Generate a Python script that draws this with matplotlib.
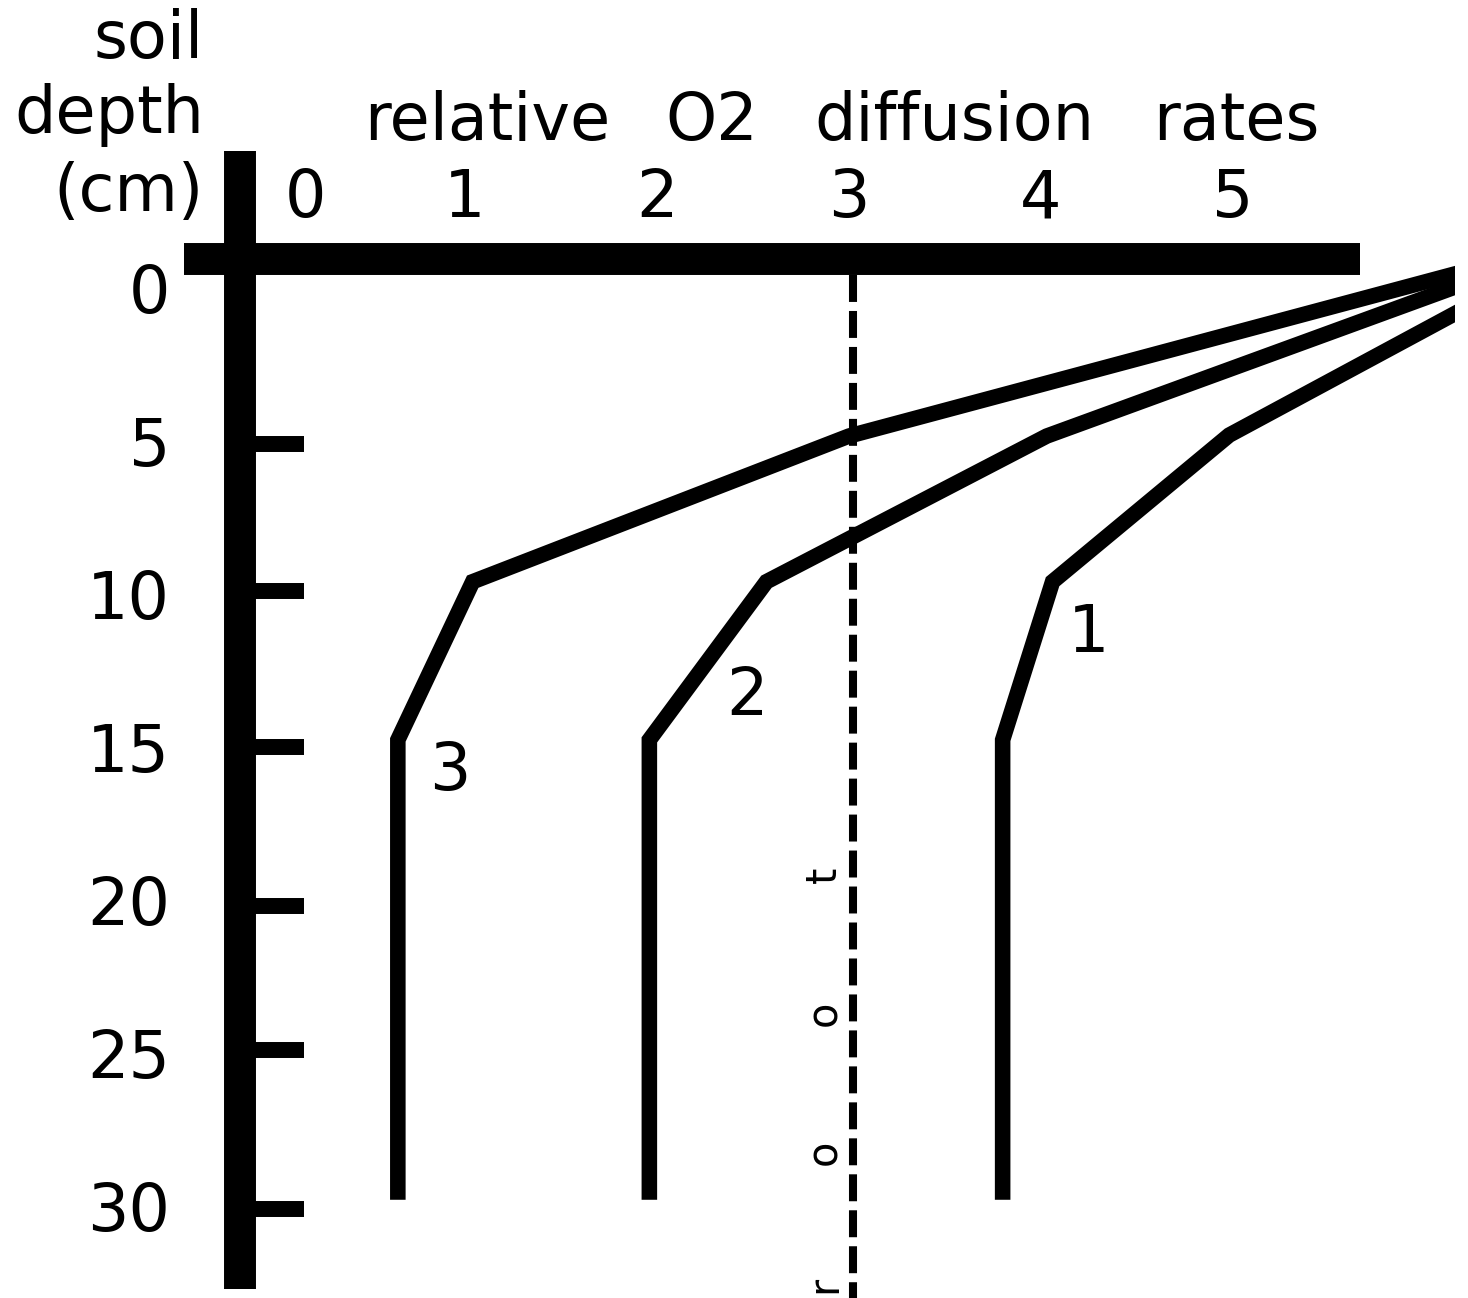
#!/usr/bin/python3
# coding: utf-8

import matplotlib
matplotlib.use('Agg')
import matplotlib.pyplot as plt

plt.rcParams['font.family'] = ['DejaVu Sans']
plt.rcParams['lines.scale_dashes'] = False

# O2 diffusion profiles: (relative rate, soil depth in cm)
curve_labels = ['1', '2', '3']
depth_1 = [0.25, 4.71, 9.5, 14.67, 29.7]
rate_1 = [6.3, 4.98, 4.06, 3.80, 3.80]
depth_2 = [-0.46, 4.74, 9.5, 14.67, 29.7]
rate_2 = [6.3, 4.03, 2.57, 1.96, 1.96]
depth_3 = [-0.80, 4.74, 9.5, 14.67, 29.7]
rate_3 = [6.3, 3.00, 1.04, 0.65, 0.65]

root_rate = 3.02
depth_labels = [0, 5, 10, 15, 20, 25, 30]
depth_marks = [5, 9.8, 14.9, 20.1, 24.8, 30]
rate_labels = ['0', '1', '2', '3', '4', '5']
rate_label_pos = [0.17, 1, 2, 3, 4, 5]


def main():
    fs = 47
    fig = plt.figure(figsize=(14.68, 12.98), dpi=100)
    ax = fig.add_axes([0, 0, 1455 / 1468, 1])
    ax.set_xlim(-1.422, 6.156)
    ax.set_ylim(32.91, -9.51)
    ax.axis('off')

    # thick hand-drawn style axes
    ax.plot([-0.172, -0.172], [-4.575, 32.614], color='black', lw=23,
            solid_capstyle='butt')
    ax.plot([-0.464, 5.661], [-1.046, -1.046], color='black', lw=23,
            solid_capstyle='butt')
    for d in depth_marks:
        ax.plot([-0.172, 0.161], [d, d], color='black', lw=11.5,
                solid_capstyle='butt')

    for d in depth_labels:
        ax.text(-0.536, d + 0.735, str(d), fontsize=fs, ha='right', va='baseline')
    for x, lab in zip(rate_label_pos, rate_labels):
        ax.text(x, -2.418, lab, fontsize=fs, ha='center', va='baseline')

    for word, x in zip(['relative', 'O2', 'diffusion', 'rates'],
                       [1.115, 2.286, 3.547, 5.016]):
        ax.text(x, -4.935, word, fontsize=fs, ha='center', va='baseline')
    for word, y in zip(['soil', 'depth', '(cm)'], [-7.614, -5.163, -2.614]):
        ax.text(-0.359, y, word, fontsize=fs, ha='right', va='baseline')

    # root position
    ax.plot([root_rate, root_rate], [-0.52, 33.5], color='black', lw=5.8,
            dashes=(19.4, 6.5), solid_capstyle='butt', dash_capstyle='butt')
    for ch, y in zip('toor', [19.08, 23.59, 28.14, 32.48]):
        ax.text(2.932, y, ch, fontsize=30, rotation=90, rotation_mode='anchor',
                ha='center', va='baseline')

    # diffusion curves
    for xs, ys in [(rate_1, depth_1), (rate_2, depth_2), (rate_3, depth_3)]:
        ax.plot(xs, ys, color='black', lw=11.2, solid_capstyle='butt',
                solid_joinstyle='miter')

    for lab, x, y in zip(curve_labels, [4.245, 2.469, 0.922], [11.80, 13.856, 16.31]):
        ax.text(x, y, lab, fontsize=fs, ha='center', va='baseline')

    fig.savefig('out.png', dpi=100, facecolor='white')


if __name__ == '__main__':
    main()
